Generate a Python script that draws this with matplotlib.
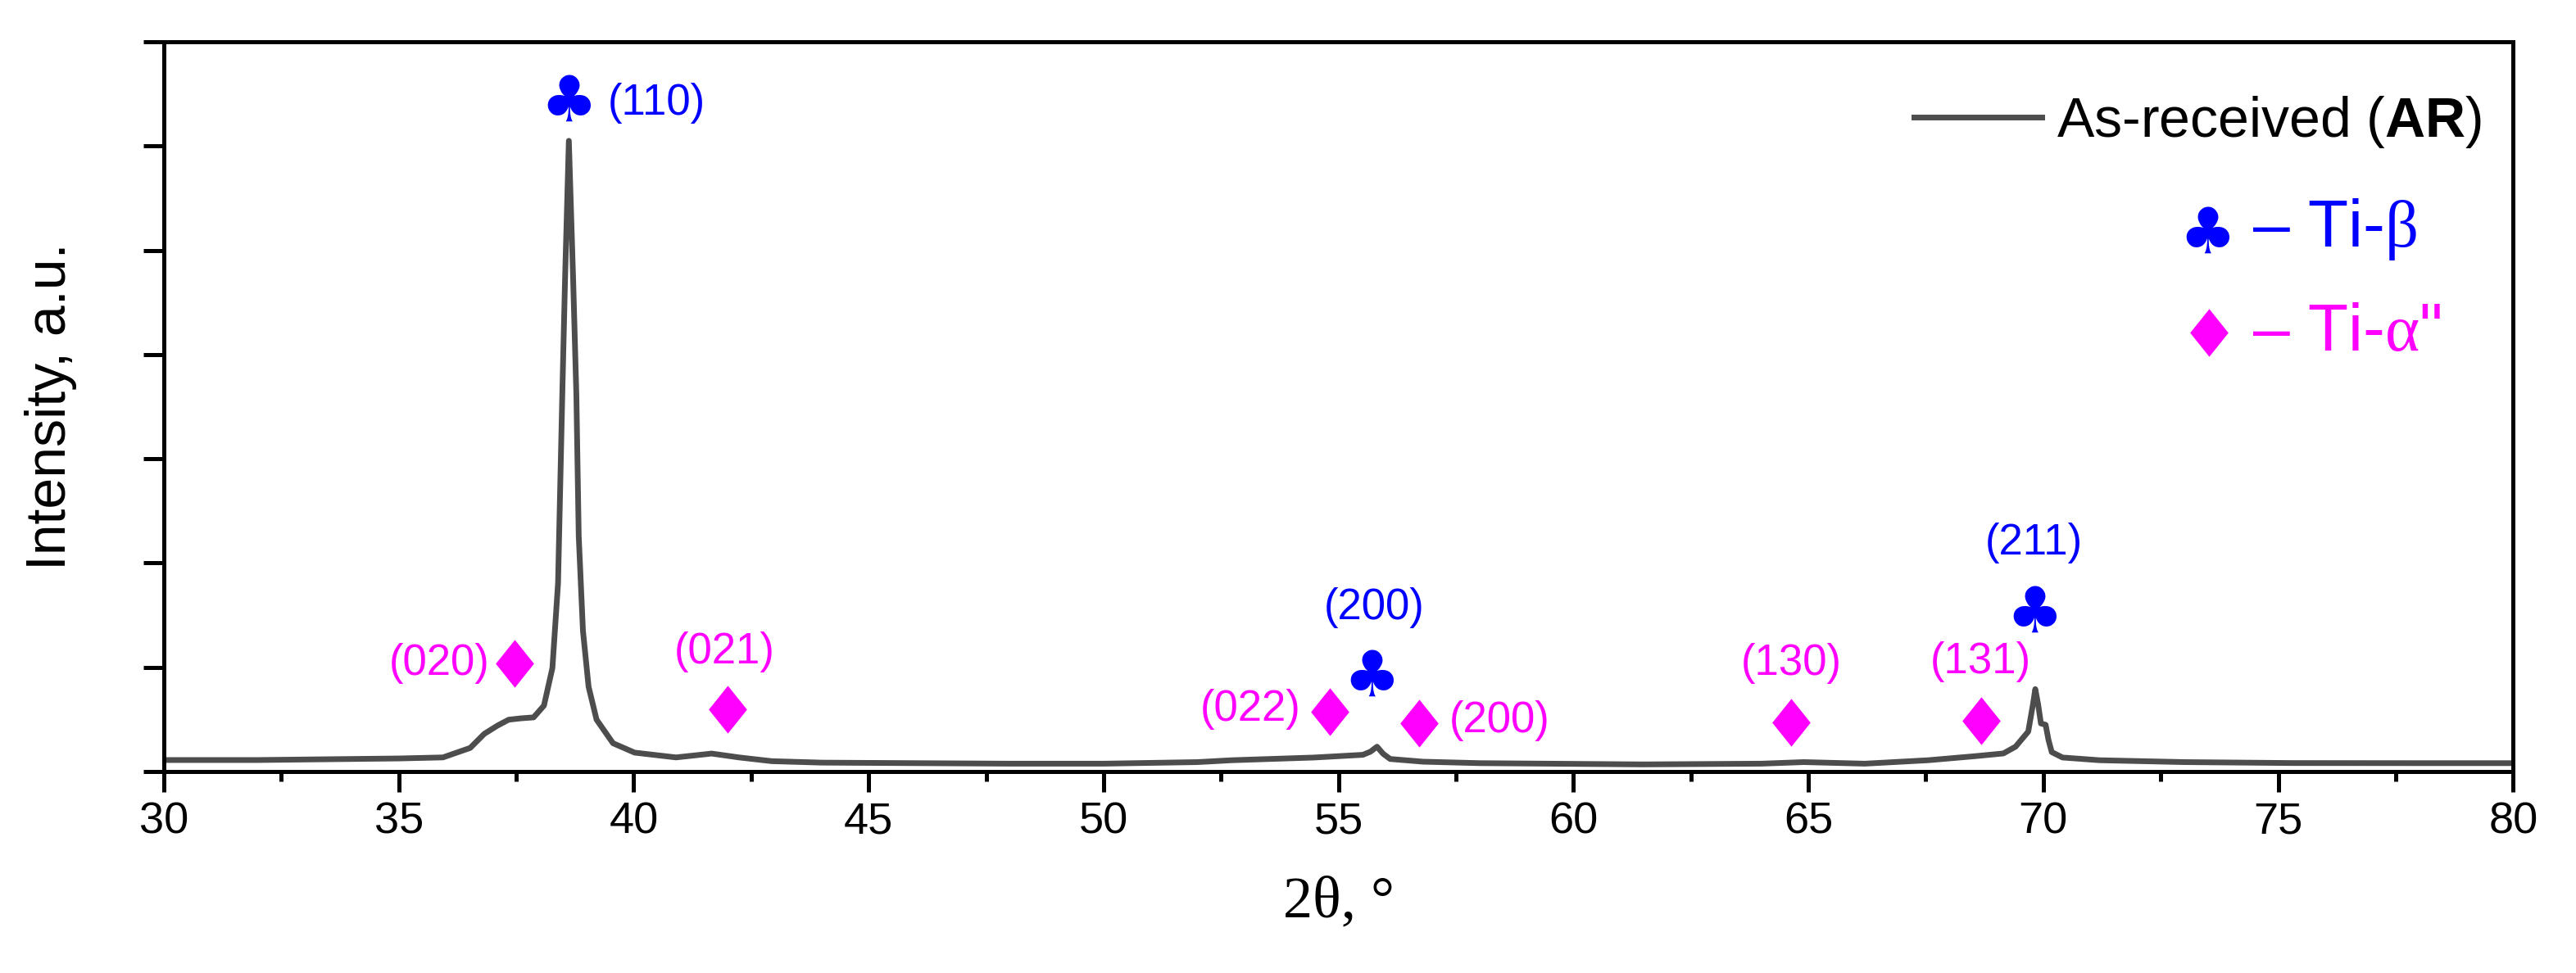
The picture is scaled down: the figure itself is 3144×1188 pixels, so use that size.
import matplotlib
matplotlib.use('Agg')
import matplotlib.pyplot as plt
from matplotlib.ticker import MultipleLocator

# XRD pattern
two_theta = [30.0, 32.0, 34.0, 35.0, 35.94, 36.52, 36.82, 37.1, 37.34, 37.6,
             37.87, 38.09, 38.27, 38.39, 38.48, 38.54, 38.62, 38.71, 38.78,
             38.83, 38.92, 39.04, 39.21, 39.56, 40.02, 40.9, 41.66, 42.24,
             42.94, 44.0, 46.0, 48.0, 50.0, 52.0, 52.73, 54.48, 55.52, 55.68,
             55.82, 55.95, 56.1, 56.8, 58.0, 61.47, 64.0, 64.9, 66.2, 67.55,
             68.55, 69.15, 69.41, 69.68, 69.78, 69.83, 69.89, 69.95, 70.05,
             70.11, 70.18, 70.41, 71.2, 73.0, 75.3, 78.0, 80.0]
intensity = [0.11, 0.11, 0.12, 0.125, 0.135, 0.226, 0.361, 0.44, 0.497, 0.51,
             0.519, 0.632, 0.993, 1.806, 3.61, 4.74, 6.05, 4.74, 3.61,
             2.26, 1.35, 0.813, 0.497, 0.271, 0.181, 0.135, 0.172, 0.135,
             0.099, 0.085, 0.08, 0.075, 0.075, 0.09, 0.108, 0.134, 0.16, 0.19,
             0.238, 0.17, 0.12, 0.094, 0.08, 0.068, 0.075, 0.09, 0.075, 0.108,
             0.147, 0.173, 0.238, 0.383, 0.644, 0.79, 0.644, 0.461, 0.448,
             0.304, 0.186, 0.134, 0.108, 0.09, 0.081, 0.08, 0.08]

# Ti-beta reflections
beta_x = [38.62, 55.71, 69.81]
beta_y = [6.41, 0.90, 1.51]
beta_labels = ['(110)', '(200)', '(211)']
beta_label_x = [39.45, 55.75, 69.80]
beta_label_y = [6.41, 1.57, 2.19]
beta_label_ha = ['left', 'center', 'center']

# Ti-alpha'' reflections
alpha_x = [37.46, 42.0, 54.82, 56.72, 64.63, 68.68]
alpha_y = [1.04, 0.60, 0.57, 0.46, 0.47, 0.49]
alpha_labels = ['(020)', '(021)', '(022)', '(200)', '(130)', '(131)']
alpha_label_x = [36.94, 41.93, 54.19, 57.35, 64.63, 68.66]
alpha_label_y = [1.04, 1.15, 0.60, 0.49, 1.04, 1.05]
alpha_label_ha = ['right', 'center', 'right', 'left', 'center', 'center']

BLUE = '#0000ff'
MAGENTA = '#ff00ff'
LINE = '#4d4d4d'
SYM = ['DejaVu Sans']
# tall diamond marker
DIAMOND = [(0, 1), (0.8, 0), (0, -1), (-0.8, 0), (0, 1)]

plt.rcParams['font.family'] = ['Liberation Sans', 'DejaVu Sans']
plt.rcParams['mathtext.fontset'] = 'custom'
plt.rcParams['mathtext.rm'] = 'Liberation Serif'
plt.rcParams['mathtext.it'] = 'Liberation Serif:italic'
plt.rcParams['mathtext.bf'] = 'Liberation Sans:bold'


def main():
    fig = plt.figure(figsize=(15.72, 5.94), dpi=200)
    ax = fig.add_axes([0.0636, 0.2071, 0.912, 0.75])

    ax.plot(two_theta, intensity, color=LINE, lw=2.5,
            label='As-received ($\\mathbf{AR}$)')

    for x, y in zip(beta_x, beta_y):
        ax.text(x, y, '\u2663', color=BLUE, fontsize=28, family=SYM,
                ha='center', va='center')
    for x, y, s, ha in zip(beta_label_x, beta_label_y, beta_labels, beta_label_ha):
        ax.text(x, y, s, color=BLUE, fontsize=19, ha=ha, va='center')

    ax.plot(alpha_x, alpha_y, ls='none', marker=DIAMOND, ms=21,
            color=MAGENTA, mec='none')
    for x, y, s, ha in zip(alpha_label_x, alpha_label_y, alpha_labels, alpha_label_ha):
        ax.text(x, y, s, color=MAGENTA, fontsize=19, ha=ha, va='center')

    # phase key
    ax.text(0.8698, 0.735, '\u2663', color=BLUE, fontsize=28, family=SYM,
            ha='center', va='center', transform=ax.transAxes)
    ax.text(0.889, 0.7194, '\u2013 Ti-$\\mathrm{\\beta}$', color=BLUE,
            fontsize=29, ha='left', va='baseline', transform=ax.transAxes)
    ax.plot([0.8705], [0.602], ls='none', marker=DIAMOND, ms=21,
            color=MAGENTA, mec='none', transform=ax.transAxes)
    ax.text(0.889, 0.5769, '\u2013 Ti-$\\mathrm{\\alpha}$"', color=MAGENTA,
            fontsize=29, ha='left', va='baseline', transform=ax.transAxes)

    ax.legend(loc='center right', bbox_to_anchor=(0.9867, 0.890),
              frameon=False, fontsize=24.5, handlelength=2.3,
              handletextpad=0.26, borderpad=0, borderaxespad=0)

    ax.set_xlim(30, 80)
    ax.set_ylim(0, 7)
    ax.xaxis.set_major_locator(MultipleLocator(5))
    ax.xaxis.set_minor_locator(MultipleLocator(2.5))
    ax.yaxis.set_major_locator(MultipleLocator(1))
    ax.set_yticklabels([])
    ax.tick_params(axis='both', which='major', direction='out', length=9,
                   width=1.8, labelsize=19.5, pad=4, top=False, right=False)
    ax.tick_params(axis='x', which='minor', direction='out', length=4.3,
                   width=1.8)
    for sp in ax.spines.values():
        sp.set_linewidth(1.8)

    ax.set_xlabel('2\u03b8, \u00b0', family='Liberation Serif', fontsize=26,
                  labelpad=15)
    ax.set_ylabel('Intensity, a.u.', fontsize=24.5, labelpad=25)

    fig.savefig('out.png', dpi=200)


if __name__ == '__main__':
    main()
